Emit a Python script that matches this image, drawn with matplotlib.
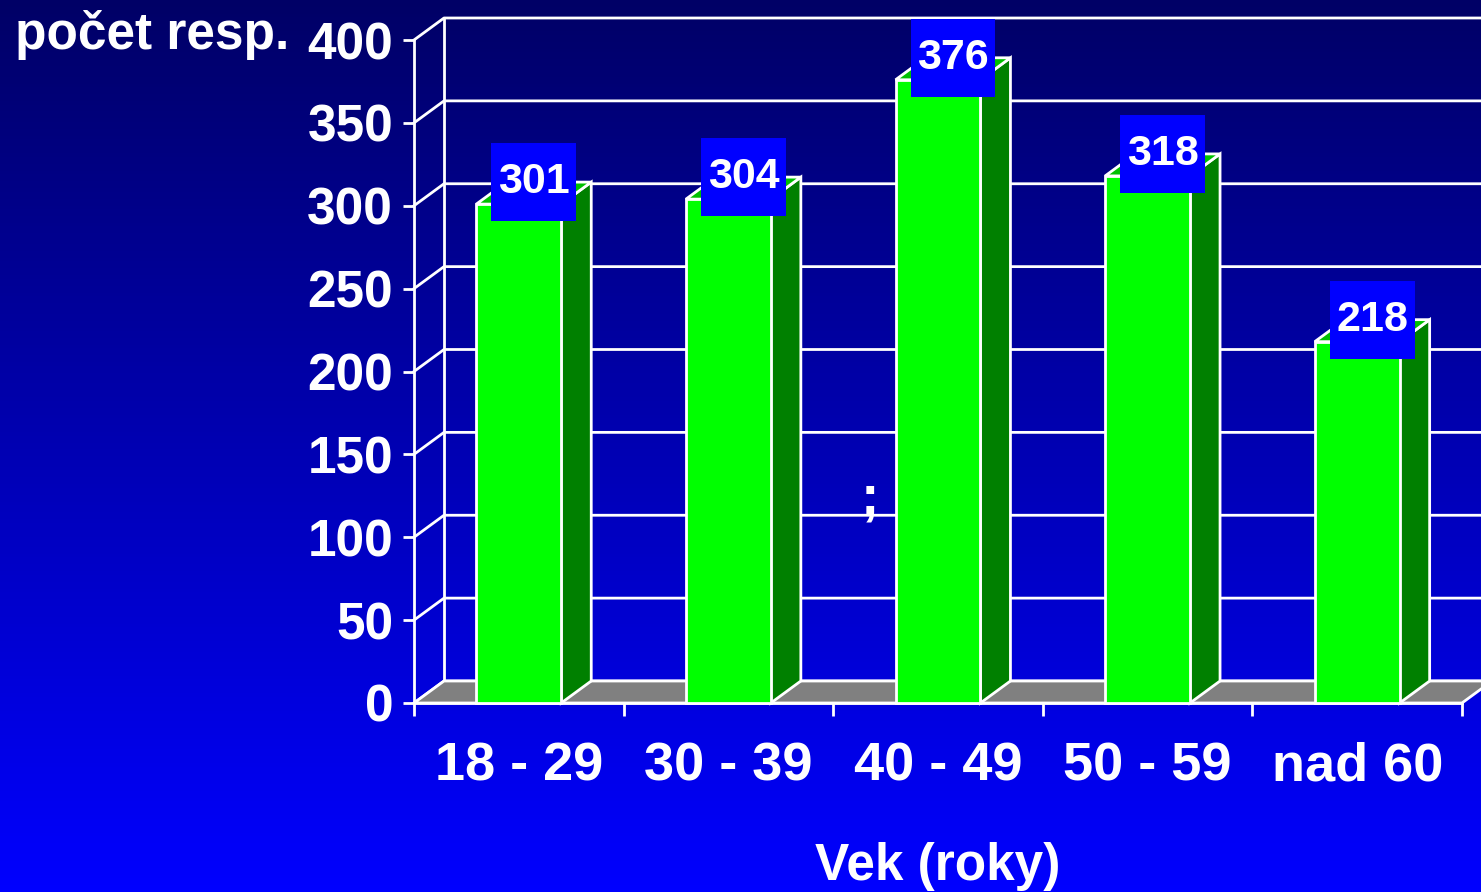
import numpy as np
import matplotlib
matplotlib.use("Agg")
import matplotlib.pyplot as plt
from matplotlib.patches import Polygon, Rectangle

plt.rcParams['font.family'] = ['Liberation Sans', 'DejaVu Sans']
plt.rcParams['font.weight'] = 'bold'

# data
categories = ["18 - 29", "30 - 39", "40 - 49", "50 - 59", "nad 60"]
values = [301, 304, 376, 318, 218]
y_ticks = [0, 50, 100, 150, 200, 250, 300, 350, 400]

W, H = 1481, 892
fig = plt.figure(figsize=(W / 100, H / 100), dpi=100)

# gradient background
bg = fig.add_axes([0, 0, 1, 1], zorder=0)
grad = np.linspace(0, 1, 256).reshape(-1, 1)
rgb = np.zeros((256, 1, 3))
rgb[:, 0, 2] = 0.40 + 0.60 * grad[:, 0]
bg.imshow(rgb, aspect='auto', extent=[0, 1, 0, 1], origin='upper')
bg.axis('off')

ax = fig.add_axes([414 / W, (H - 703) / H, 1048 / W, 663 / H], zorder=1)
ax.patch.set_alpha(0)
n = len(categories)
ax.set_xlim(0, n)
ax.set_ylim(0, 400)

# 3D depth, in data units
dx = 30 / (1048 / n)
dy = 22 / (663 / 400)
lw = 2.0
bar_w = 0.405

# floor
ax.add_patch(Polygon([(0, 0), (n, 0), (n + dx, dy), (dx, dy)], closed=True,
                     facecolor='#808080', edgecolor='white', lw=lw, zorder=2, clip_on=False))

# back wall grid
for v in y_ticks:
    ax.plot([0, dx, n + dx + 1], [v, v + dy, v + dy], color='white', lw=lw, zorder=1, clip_on=False)
ax.plot([dx, dx], [dy, 400 + dy], color='white', lw=lw, zorder=1, clip_on=False)

# bars
for i, v in enumerate(values):
    c = i + 0.5
    x0, x1 = c - bar_w / 2, c + bar_w / 2
    ax.add_patch(Polygon([(x1, 0), (x1 + dx, dy), (x1 + dx, v + dy), (x1, v)], closed=True,
                         facecolor='#008000', edgecolor='white', lw=lw, zorder=3, clip_on=False))
    ax.add_patch(Polygon([(x0, v), (x1, v), (x1 + dx, v + dy), (x0 + dx, v + dy)], closed=True,
                         facecolor='#00c000', edgecolor='white', lw=lw, zorder=3, clip_on=False))
    ax.add_patch(Rectangle((x0, 0), bar_w, v, facecolor='#00ff00', edgecolor='white',
                           lw=lw, zorder=3, clip_on=False))
    # value label
    bh = 47
    ax.add_patch(Rectangle((c + dx / 2 - bar_w / 2, v + dy - bh / 2), bar_w, bh,
                           facecolor='#0000ff', edgecolor='none', zorder=4, clip_on=False))
    ax.text(c + dx / 2, v + dy, str(v), color='white', fontsize=31, fontweight='bold',
            ha='center', va='center', zorder=5)

# axes
for s in ['top', 'right']:
    ax.spines[s].set_visible(False)
for s in ['left', 'bottom']:
    ax.spines[s].set_color('white')
    ax.spines[s].set_linewidth(lw)
    ax.spines[s].set_zorder(2.5)
ax.set_yticks(y_ticks)
ax.tick_params(axis='y', colors='white', labelsize=37, length=8, width=lw, pad=7)
ax.set_xticks(np.arange(n + 1))
ax.set_xticklabels([])
ax.tick_params(axis='x', which='major', colors='white', length=9, width=lw)
ax.set_xticks(np.arange(n) + 0.5, minor=True)
ax.set_xticklabels(categories, minor=True)
ax.tick_params(axis='x', which='minor', colors='white', labelsize=39, length=0, pad=28)
for lab in ax.get_yticklabels() + ax.get_xticklabels(minor=True):
    lab.set_fontweight('bold')

ax.set_xlabel("Vek (roky)", color='white', fontsize=37, fontweight='bold', labelpad=36)

fig.text(15 / W, 1 - 35 / H, "počet resp.", color='white', fontsize=37, fontweight='bold',
         ha='left', va='center')
fig.text(870 / W, 1 - 500 / H, ";", color='white', fontsize=40, fontweight='bold',
         ha='center', va='center')

fig.savefig("out.png", dpi=100)
